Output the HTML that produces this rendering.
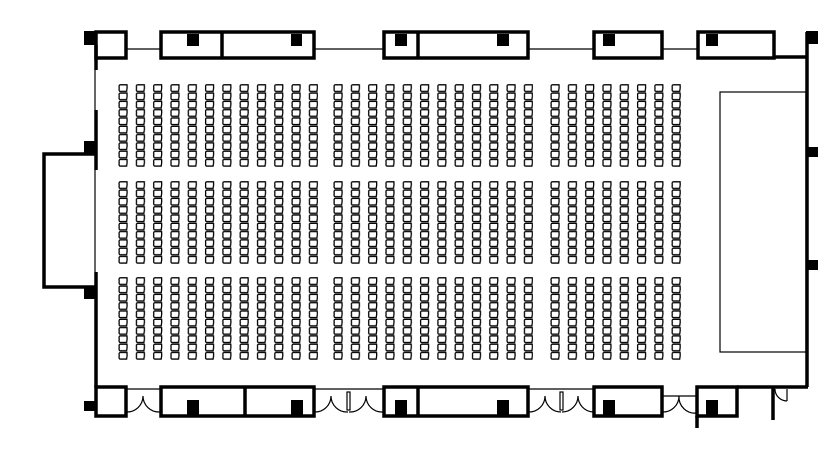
<!DOCTYPE html>
<html><head><meta charset="utf-8"><style>
html,body{margin:0;padding:0;background:#fff;}
svg{display:block;}
</style></head><body>
<svg width="840" height="450" viewBox="0 0 840 450" xmlns="http://www.w3.org/2000/svg">
<defs>
<pattern id="c1" x="118" y="84" width="17.3" height="8.3" patternUnits="userSpaceOnUse">
<path d="M9 0.8 H2.2 Q0.6 0.8 1.2 4 Q0.6 7.4 2.2 7.4 H8.6 Q9.4 4 9 0.8 Z" fill="#fff" stroke="#000" stroke-width="1.3"/>
</pattern>
<pattern id="c2" x="118" y="181" width="17.3" height="8.3" patternUnits="userSpaceOnUse">
<path d="M9 0.8 H2.2 Q0.6 0.8 1.2 4 Q0.6 7.4 2.2 7.4 H8.6 Q9.4 4 9 0.8 Z" fill="#fff" stroke="#000" stroke-width="1.3"/>
</pattern>
<pattern id="c3" x="118" y="277" width="17.3" height="8.3" patternUnits="userSpaceOnUse">
<path d="M9 0.8 H2.2 Q0.6 0.8 1.2 4 Q0.6 7.4 2.2 7.4 H8.6 Q9.4 4 9 0.8 Z" fill="#fff" stroke="#000" stroke-width="1.3"/>
</pattern>
</defs>
<g>
<rect x="118" y="84" width="200" height="83" fill="url(#c1)"/>
<rect x="118" y="181" width="200" height="83" fill="url(#c2)"/>
<rect x="118" y="277" width="200" height="83" fill="url(#c3)"/>
</g>
<g transform="translate(215,0)">
<rect x="118" y="84" width="200" height="83" fill="url(#c1)"/>
<rect x="118" y="181" width="200" height="83" fill="url(#c2)"/>
<rect x="118" y="277" width="200" height="83" fill="url(#c3)"/>
</g>
<g transform="translate(432,0)">
<rect x="118" y="84" width="131" height="83" fill="url(#c1)"/>
<rect x="118" y="181" width="131" height="83" fill="url(#c2)"/>
<rect x="118" y="277" width="131" height="83" fill="url(#c3)"/>
</g>
<g stroke="#000" stroke-width="1.2" fill="none">
<line x1="126" y1="49" x2="160" y2="49"/>
<line x1="314" y1="49" x2="383" y2="49"/>
<line x1="528" y1="49" x2="593" y2="49"/>
<line x1="662" y1="49" x2="697" y2="49"/>
<line x1="95" y1="70" x2="95" y2="110"/>
<line x1="95" y1="170" x2="95" y2="272"/>
<rect x="720" y="92" width="86" height="260"/>
<line x1="126" y1="389" x2="160" y2="389"/>
<path d="M126 412 A16 16 0 0 0 143 396 M160 412 A16 16 0 0 1 143 396"/>
<line x1="314" y1="389" x2="383" y2="389"/>
<path d="M314 412 A16 16 0 0 0 331 396 M348 412 A16 16 0 0 1 331 396 M349 412 A16 16 0 0 0 366 396 M383 412 A16 16 0 0 1 366 396"/>
<rect x="347" y="392" width="3" height="18"/>
<line x1="528" y1="389" x2="593" y2="389"/>
<path d="M528 412 A16 16 0 0 0 545 396 M561 412 A16 16 0 0 1 545 396 M562 412 A16 16 0 0 0 578 396 M593 412 A16 16 0 0 1 578 396"/>
<rect x="560" y="392" width="3" height="18"/>
<line x1="662" y1="396" x2="697" y2="396"/>
<path d="M662 412 A16 16 0 0 0 679 396 M697 413 A16 16 0 0 1 679 396"/>
<path d="M775 389 A12 12 0 0 0 787 401 M787 389 V401"/>
</g>
<g stroke="#000" stroke-width="3.5" fill="none">
<rect x="96" y="32" width="30" height="26"/>
<rect x="161" y="32" width="153" height="26"/>
<line x1="222" y1="32" x2="222" y2="58"/>
<rect x="384" y="32" width="144" height="26"/>
<line x1="418" y1="32" x2="418" y2="58"/>
<rect x="594" y="32" width="68" height="26"/>
<rect x="698" y="32" width="76" height="26"/>
<line x1="774" y1="57" x2="808" y2="57"/>
<line x1="807" y1="32" x2="807" y2="387"/>
<line x1="96" y1="45" x2="96" y2="70"/>
<line x1="96" y1="110" x2="96" y2="170"/>
<line x1="96" y1="272" x2="96" y2="388"/>
<path d="M96 154 H44 V287 H96"/>
<rect x="96" y="387" width="30" height="29"/>
<rect x="161" y="387" width="153" height="29"/>
<line x1="245" y1="387" x2="245" y2="416"/>
<rect x="384" y="387" width="144" height="29"/>
<line x1="418" y1="387" x2="418" y2="416"/>
<rect x="594" y="387" width="68" height="29"/>
<rect x="697" y="387" width="40" height="29"/>
<line x1="697" y1="416" x2="697" y2="428"/>
<line x1="737" y1="387" x2="808" y2="387"/>
<line x1="773" y1="387" x2="773" y2="420"/>
</g>
<g fill="#000">
<rect x="84" y="31" width="12" height="14"/>
<rect x="187" y="34" width="12" height="12"/>
<rect x="291" y="34" width="11" height="12"/>
<rect x="395" y="34" width="12" height="12"/>
<rect x="497" y="34" width="12" height="12"/>
<rect x="603" y="34" width="12" height="12"/>
<rect x="706" y="34" width="12" height="12"/>
<rect x="806" y="31" width="12" height="13"/>
<rect x="806" y="147" width="12" height="10"/>
<rect x="806" y="260" width="12" height="10"/>
<rect x="84" y="141" width="12" height="13"/>
<rect x="84" y="287" width="12" height="12"/>
<rect x="84" y="401" width="12" height="10"/>
<rect x="187" y="400" width="12" height="16"/>
<rect x="291" y="400" width="12" height="16"/>
<rect x="395" y="400" width="12" height="16"/>
<rect x="497" y="400" width="12" height="16"/>
<rect x="603" y="400" width="12" height="16"/>
<rect x="706" y="400" width="12" height="16"/>
</g>
</svg>
</body></html>
